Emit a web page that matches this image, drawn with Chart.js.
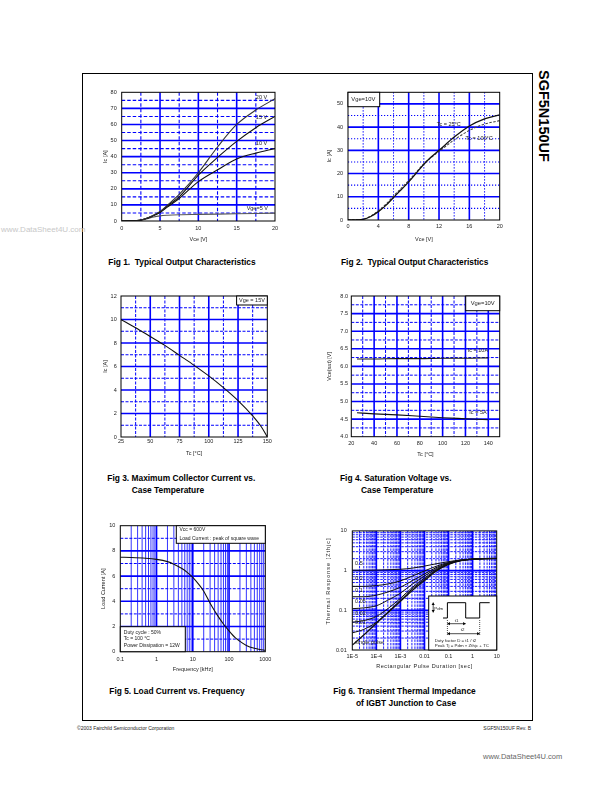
<!DOCTYPE html>
<html>
<head>
<meta charset="utf-8">
<script src="https://cdn.jsdelivr.net/npm/chart.js@4.4.1/dist/chart.umd.min.js"></script>
<style>
html,body{margin:0;padding:0;background:#fff;}
#page{position:relative;width:612px;height:792px;overflow:hidden;background:#fff;font-family:"Liberation Sans",Arial,Helvetica,sans-serif;}
#page canvas{position:absolute;}
.tx{position:absolute;white-space:nowrap;color:#000;}
.cap{font-weight:bold;font-size:8.4px;line-height:10px;}
</style>
</head>
<body>
<div id="page">
  <div style="position:absolute;left:82px;top:73px;width:451px;height:648px;border:1px solid #000;box-sizing:border-box;"></div>
  <div class="tx" style="left:536px;top:70px;writing-mode:vertical-rl;font-weight:bold;font-size:14.5px;line-height:15px;">SGF5N150UF</div>
  <div class="tx" style="left:1px;top:225px;font-size:8px;line-height:9px;color:#c8c8c8;">www.DataSheet4U.com</div>

  <div class="tx cap" style="left:108.3px;top:257px;">Fig 1.&nbsp; Typical Output Characteristics</div>
  <div class="tx cap" style="left:341px;top:257px;">Fig 2.&nbsp; Typical Output Characteristics</div>
  <div class="tx cap" style="left:107.3px;top:473px;">Fig 3. Maximum Collector Current vs.</div>
  <div class="tx cap" style="left:131.7px;top:484.5px;">Case Temperature</div>
  <div class="tx cap" style="left:340px;top:473px;">Fig 4. Saturation Voltage vs.</div>
  <div class="tx cap" style="left:361px;top:484.5px;">Case Temperature</div>
  <div class="tx cap" style="left:109.3px;top:686px;">Fig 5. Load Current vs. Frequency</div>
  <div class="tx cap" style="left:333.3px;top:686px;">Fig 6. Transient Thermal Impedance</div>
  <div class="tx cap" style="left:356px;top:697.5px;">of IGBT Junction to Case</div>

  <div class="tx" style="left:77px;top:724.7px;font-size:5px;line-height:6px;color:#222;">©2003 Fairchild Semiconductor Corporation</div>
  <div class="tx" style="right:81px;top:724.7px;font-size:5px;line-height:6px;color:#222;">SGF5N150UF Rev. B</div>
  <div class="tx" style="left:483px;top:751.5px;font-size:7.5px;line-height:9px;color:#666;">www.DataSheet4U.com</div>
</div>
<script>
// ================= DATA =================
// Fig 1 – Typical output characteristics (Ic vs Vce for several Vge)
const f1Vce   = [0, 1, 2, 2.5, 3, 4, 5, 6, 7.5, 10, 12.5, 15, 17.5, 20];
const f1Vge20 = [0, 0.1, 0.3, 0.6, 1.2, 3.2, 6.0, 10.0, 16.5, 30.0, 46.0, 60.0, 69.0, 76.0];
const f1Vge15 = [0, 0.1, 0.3, 0.6, 1.2, 3.1, 5.6, 9.5, 15.0, 28.5, 39.5, 49.5, 58.0, 65.0];
const f1Vge10 = [0, 0.1, 0.3, 0.6, 1.2, 3.0, 5.3, 8.8, 14.0, 24.5, 31.8, 38.5, 42.2, 45.0];
const f1Vge5  = [0, 0.1, 0.3, 0.5, 1.0, 2.3, 3.2, 3.6, 3.9, 4.1, 4.3, 4.5, 4.7, 4.9];
const f1XTicks = [0, 5, 10, 15, 20];
const f1XLabels = ['0', '5', '10', '15', '20'];
const f1YTicks = [0, 10, 20, 30, 40, 50, 60, 70, 80];
const f1YLabels = ['0', '10', '20', '30', '40', '50', '60', '70', '80'];
const f1GridXMajor = [5, 10, 15];
const f1GridXMinor = [2.5, 7.5, 12.5, 17.5];
const f1GridYMajor = [10, 20, 30, 40, 50, 60, 70];
const f1GridYMinor = [5, 15, 25, 35, 45, 55, 65, 75];

// Fig 2 – Typical output characteristics at two case temperatures
const f2Vce   = [0, 1, 2, 3, 4, 5, 6, 7, 8, 9, 10, 11, 12, 14, 16, 18, 20];
const f2Tc25  = [0, 0.05, 0.3, 1.5, 3.6, 6.3, 9.7, 13.0, 16.4, 20.2, 24.0, 27.2, 30.0, 35.7, 40.5, 43.6, 45.3];
const f2Tc100 = [0, 0.05, 0.35, 1.7, 4.0, 6.8, 10.3, 13.6, 17.0, 20.6, 24.2, 27.0, 29.5, 34.5, 38.6, 41.3, 42.8];
const f2XTicks = [0, 4, 8, 12, 16, 20];
const f2XLabels = ['0', '4', '8', '12', '16', '20'];
const f2YTicks = [0, 10, 20, 30, 40, 50];
const f2YLabels = ['0', '10', '20', '30', '40', '50'];
const f2GridXMajor = [4, 8, 12, 16];
const f2GridXMinor = [2, 6, 10, 14, 18];
const f2GridYMajor = [10, 20, 30, 40, 50];
const f2GridYMinor = [5, 15, 25, 35, 45];

// Fig 3 – Maximum collector current vs case temperature
const f3Tc = [25, 37.5, 50, 62.5, 75, 87.5, 100, 112.5, 125, 137.5, 145, 150];
const f3Ic = [10, 9.3, 8.55, 7.8, 6.95, 6.1, 5.2, 4.2, 3.1, 1.8, 0.85, 0];
const f3XTicks = [25, 50, 75, 100, 125, 150];
const f3XLabels = ['25', '50', '75', '100', '125', '150'];
const f3YTicks = [0, 2, 4, 6, 8, 10, 12];
const f3YLabels = ['0', '2', '4', '6', '8', '10', '12'];
const f3GridXMajor = [50, 75, 100, 125];
const f3GridXMinor = [37.5, 62.5, 87.5, 112.5, 137.5];
const f3GridYMajor = [2, 4, 6, 8, 10];
const f3GridYMinor = [1, 3, 5, 7, 9, 11];

// Fig 4 – Saturation voltage vs case temperature
const f4Tc    = [25, 40, 60, 80, 100, 120, 140];
const f4Ic10A = [6.21, 6.21, 6.22, 6.22, 6.23, 6.23, 6.24];
const f4Ic5A  = [4.68, 4.65, 4.62, 4.58, 4.54, 4.51, 4.48];
const f4XTicks = [20, 40, 60, 80, 100, 120, 140];
const f4XLabels = ['20', '40', '60', '80', '100', '120', '140'];
const f4YTicks = [4.0, 4.5, 5.0, 5.5, 6.0, 6.5, 7.0, 7.5, 8.0];
const f4YLabels = ['4.0', '4.5', '5.0', '5.5', '6.0', '6.5', '7.0', '7.5', '8.0'];
const f4GridXMajor = [40, 60, 80, 100, 120, 140];
const f4GridXMinor = [30, 50, 70, 90, 110, 130];
const f4GridYMajor = [4.5, 5.0, 5.5, 6.0, 6.5, 7.0, 7.5];
const f4GridYMinor = [4.25, 4.75, 5.25, 5.75, 6.25, 6.75, 7.25, 7.75];

// Fig 5 – Load current vs frequency
const f5Freq = [0.1, 0.2, 0.5, 1, 2, 3, 5, 7, 10, 15, 20, 30, 50, 70, 100, 150, 200, 300, 500, 700, 1000];
const f5Load = [7.5, 7.48, 7.42, 7.33, 7.15, 6.95, 6.6, 6.3, 5.9, 5.3, 4.8, 3.85, 2.8, 2.2, 1.65, 1.1, 0.82, 0.5, 0.27, 0.18, 0.12];
const f5XTicks = [0.1, 1, 10, 100, 1000];
const f5XLabels = ['0.1', '1', '10', '100', '1000'];
const f5YTicks = [0, 2, 4, 6, 8, 10];
const f5YLabels = ['0', '2', '4', '6', '8', '10'];
const f5GridXMajor = [1, 10, 100];
const f5GridYMajor = [2, 4, 6, 8];
const f5GridYMinor = [1, 3, 5, 7, 9];

// Fig 6 – Transient thermal impedance (Zthjc vs pulse duration, per duty factor)
const f6Time   = [1e-5, 3e-5, 1e-4, 3e-4, 1e-3, 3e-3, 1e-2, 3e-2, 0.1, 0.3, 1, 3, 10];
const f6D05    = [1.02, 1.02, 1.03, 1.05, 1.08, 1.15, 1.30, 1.48, 1.68, 1.85, 1.96, 2.00, 2.02];
const f6D02    = [0.40, 0.40, 0.42, 0.46, 0.55, 0.72, 0.98, 1.28, 1.60, 1.82, 1.95, 2.00, 2.02];
const f6D01    = [0.22, 0.22, 0.24, 0.29, 0.38, 0.55, 0.82, 1.18, 1.55, 1.80, 1.94, 2.00, 2.02];
const f6D005   = [0.11, 0.115, 0.13, 0.18, 0.27, 0.45, 0.73, 1.10, 1.52, 1.79, 1.94, 2.00, 2.02];
const f6D002   = [0.05, 0.055, 0.07, 0.11, 0.20, 0.37, 0.65, 1.03, 1.48, 1.78, 1.93, 2.00, 2.02];
const f6D001   = [0.027, 0.033, 0.05, 0.09, 0.18, 0.34, 0.60, 1.00, 1.45, 1.77, 1.93, 2.00, 2.02];
const f6Single = [0.0133, 0.024, 0.047, 0.087, 0.168, 0.31, 0.56, 0.97, 1.43, 1.76, 1.93, 2.00, 2.02];
const f6XTicks = [1e-5, 1e-4, 1e-3, 1e-2, 1e-1, 1, 10];
const f6XLabels = ['1E-5', '1E-4', '1E-3', '0.01', '0.1', '1', '10'];
const f6YTicks = [0.01, 0.1, 1, 10];
const f6YLabels = ['0.01', '0.1', '1', '10'];
const f6GridXMajor = [1e-4, 1e-3, 1e-2, 1e-1, 1];
const f6GridYMajor = [0.1, 1];

// ================= RENDERING =================
const FONT = '"Liberation Sans", Arial, Helvetica, sans-serif';
const FS = 5.5, LH = FS * 1.2;
const BLUE = '#0000ff';
const TXT = '#222';
const page = document.getElementById('page');

function logMinors(e0, e1) {
  const out = [];
  for (let e = e0; e < e1; e++) for (let m = 2; m <= 9; m++) out.push(m * Math.pow(10, e));
  return out;
}

function axis(type, min, max, vals, labels, title) {
  return {
    type, min, max,
    afterBuildTicks: s => { s.ticks = vals.map(v => ({ value: v })); },
    ticks: {
      callback: (v, i) => labels[i], autoSkip: false, maxRotation: 0, minRotation: 0,
      font: { size: FS, family: FONT }, color: TXT, padding: 3
    },
    grid: { display: false, drawTicks: false },
    border: { display: false },
    title: { display: !!title, text: title || '', font: { size: FS, family: FONT }, color: TXT, padding: 0 }
  };
}

function line(xs, ys, extra) {
  return Object.assign({
    data: xs.map((x, i) => ({ x: x, y: ys[i] })),
    borderColor: '#111', borderWidth: 1.1, pointRadius: 0, fill: false,
    cubicInterpolationMode: 'monotone'
  }, extra || {});
}

function makeDecor(spec) {
  return {
    id: 'decor',
    beforeDatasetsDraw(chart) {
      const { ctx, chartArea: a } = chart;
      const sx = chart.scales.x, sy = chart.scales.y;
      ctx.save();
      ctx.beginPath(); ctx.rect(a.left, a.top, a.right - a.left, a.bottom - a.top); ctx.clip();
      (spec.grid || []).forEach(g => {
        ctx.strokeStyle = g.color || BLUE;
        ctx.lineWidth = g.width || 1;
        ctx.setLineDash(g.dash || []);
        g.values.forEach(v => {
          ctx.beginPath();
          if (g.axis === 'x') { const p = sx.getPixelForValue(v); ctx.moveTo(p, a.top); ctx.lineTo(p, a.bottom); }
          else { const p = sy.getPixelForValue(v); ctx.moveTo(a.left, p); ctx.lineTo(a.right, p); }
          ctx.stroke();
        });
      });
      ctx.restore();
    },
    afterDatasetsDraw(chart) {
      const { ctx, chartArea: a } = chart;
      const sx = chart.scales.x, sy = chart.scales.y;
      ctx.save();
      ctx.setLineDash([]);
      ctx.strokeStyle = '#000'; ctx.lineWidth = 1;
      ctx.strokeRect(a.left, a.top, a.right - a.left, a.bottom - a.top);
      (spec.boxes || []).forEach(b => {
        const x0 = b.corner[1] === 'l' ? a.left : a.right - b.w;
        const y0 = b.corner[0] === 't' ? a.top : a.bottom - b.h;
        ctx.fillStyle = '#fff'; ctx.fillRect(x0, y0, b.w, b.h);
        ctx.strokeStyle = '#000'; ctx.lineWidth = 1; ctx.strokeRect(x0, y0, b.w, b.h);
        ctx.fillStyle = TXT; ctx.font = (b.size || FS) + 'px ' + FONT; ctx.textBaseline = 'middle';
        ctx.textAlign = b.align || 'left';
        b.lines.forEach((t, i) => {
          const tx = b.align === 'center' ? x0 + b.w / 2 : x0 + b.pad;
          ctx.fillText(t, tx, y0 + b.ly[i]);
        });
      });
      (spec.texts || []).forEach(t => {
        ctx.fillStyle = TXT; ctx.font = (t.size || FS) + 'px ' + FONT;
        ctx.textBaseline = 'middle'; ctx.textAlign = t.align || 'left';
        ctx.fillText(t.text, sx.getPixelForValue(t.x), sy.getPixelForValue(t.y));
      });
      if (spec.custom) spec.custom(ctx, a);
      ctx.restore();
    }
  };
}

function makeChart(geo, xAxis, yAxis, datasets, spec) {
  const left = Math.floor(geo.yTitleX - LH / 2);
  const top = Math.floor(geo.t - 8);
  const right = Math.ceil(geo.r + 12);
  const bottom = Math.ceil(geo.xTitleY + LH / 2 + 0.5);
  const W = right - left, H = bottom - top;
  const cv = document.createElement('canvas');
  cv.width = W; cv.height = H;
  cv.style.left = left + 'px'; cv.style.top = top + 'px';
  cv.style.width = W + 'px'; cv.style.height = H + 'px';
  page.appendChild(cv);
  yAxis.afterFit = s => { s.width = geo.l - left; };
  xAxis.afterFit = s => { s.height = bottom - geo.b; };
  yAxis.ticks.padding = geo.l - geo.yLabRight;
  xAxis.ticks.padding = geo.xLabY - geo.b - LH / 2;
  yAxis.title.padding = { top: geo.yTitleX - left - LH / 2, bottom: 0 };
  xAxis.title.padding = { top: 0, bottom: bottom - geo.xTitleY - LH / 2 };
  return new Chart(cv, {
    type: 'line',
    data: { datasets: datasets },
    options: {
      responsive: false, animation: false, devicePixelRatio: 1,
      layout: { padding: { top: geo.t - top, right: right - geo.r, left: 0, bottom: 0 } },
      plugins: { legend: { display: false }, tooltip: { enabled: false } },
      scales: { x: xAxis, y: yAxis }
    },
    plugins: [makeDecor(spec)]
  });
}

function gridSet(xMaj, xMin, yMaj, yMin, dash, minW) {
  const g = [];
  if (xMin) g.push({ axis: 'x', values: xMin, width: minW || 1, dash: dash });
  if (yMin) g.push({ axis: 'y', values: yMin, width: minW || 1, dash: dash });
  if (xMaj) g.push({ axis: 'x', values: xMaj, width: 1.6 });
  if (yMaj) g.push({ axis: 'y', values: yMaj, width: 1.6 });
  return g;
}

// ---- Fig 1
makeChart({ l: 121.7, r: 275, t: 92.3, b: 221, yTitleX: 105, xTitleY: 239, yLabRight: 116.7, xLabY: 228.3 },
  axis('linear', 0, 20, f1XTicks, f1XLabels, 'Vce [V]'),
  axis('linear', 0, 80, f1YTicks, f1YLabels, 'Ic [A]'),
  [line(f1Vce, f1Vge20, { borderColor: '#333' }), line(f1Vce, f1Vge15), line(f1Vce, f1Vge10), line(f1Vce, f1Vge5, { borderColor: '#555' })],
  {
    grid: gridSet(f1GridXMajor, f1GridXMinor, f1GridYMajor, f1GridYMinor, [3.5, 2], 1.1),
    texts: [
      { text: '20 V', x: 17.5, y: 77 }, { text: '15 V', x: 17.5, y: 64.5 },
      { text: '10 V', x: 17.5, y: 48 }, { text: 'Vge=5 V', x: 16.3, y: 7.5 }
    ]
  });

// ---- Fig 2
makeChart({ l: 348, r: 499.7, t: 92.3, b: 220, yTitleX: 329.7, xTitleY: 239, yLabRight: 343, xLabY: 226 },
  axis('linear', 0, 20, f2XTicks, f2XLabels, 'Vce [V]'),
  axis('linear', 0, 55, f2YTicks, f2YLabels, 'Ic [A]'),
  [line(f2Vce, f2Tc25, { borderWidth: 1.3 }), line(f2Vce, f2Tc100, { borderColor: '#444', borderDash: [2.5, 1.5] })],
  {
    grid: gridSet(f2GridXMajor, f2GridXMinor, f2GridYMajor, f2GridYMinor, [1.2, 1.8], 1.1),
    boxes: [{ corner: 'tl', w: 31.7, h: 14.4, pad: 3.3, ly: [6.7], lines: ['Vge=10V'], size: 5.8 }],
    texts: [{ text: 'Tc = 25°C', x: 11.7, y: 41 }, { text: 'Tc = 100°C', x: 15.5, y: 35.3 }]
  });

// ---- Fig 3
makeChart({ l: 121, r: 267.3, t: 296, b: 437, yTitleX: 105, xTitleY: 453.3, yLabRight: 116.7, xLabY: 441.7 },
  axis('linear', 25, 150, f3XTicks, f3XLabels, 'Tc [°C]'),
  axis('linear', 0, 12, f3YTicks, f3YLabels, 'Ic [A]'),
  [line(f3Tc, f3Ic)],
  {
    grid: gridSet(f3GridXMajor, f3GridXMinor, f3GridYMajor, f3GridYMinor, [3, 1.5], 1),
    boxes: [{ corner: 'tr', w: 30.7, h: 9, align: 'center', ly: [4.6], lines: ['Vge = 15V'] }]
  });

// ---- Fig 4
makeChart({ l: 351.3, r: 499.7, t: 296, b: 436.7, yTitleX: 329.7, xTitleY: 454, yLabRight: 348, xLabY: 443.3 },
  axis('linear', 20, 150, f4XTicks, f4XLabels, 'Tc [°C]'),
  axis('linear', 4, 8, f4YTicks, f4YLabels, 'Vce(sat) [V]'),
  [line(f4Tc, f4Ic10A), line(f4Tc, f4Ic5A)],
  {
    grid: gridSet(f4GridXMajor, f4GridXMinor, f4GridYMajor, f4GridYMinor, [3, 1.5], 1),
    boxes: [{ corner: 'tr', w: 34, h: 14.7, align: 'center', ly: [7.3], lines: ['Vge=10V'], size: 5.8 }],
    texts: [{ text: 'Ic = 10A', x: 122, y: 6.44 }, { text: 'Ic = 5A', x: 123.4, y: 4.68 }]
  });

// ---- Fig 5
makeChart({ l: 120.3, r: 265.3, t: 525.7, b: 651.7, yTitleX: 103, xTitleY: 669.3, yLabRight: 115.3, xLabY: 659.3 },
  axis('logarithmic', 0.1, 1000, f5XTicks, f5XLabels, 'Frequency [kHz]'),
  axis('linear', 0, 10, f5YTicks, f5YLabels, 'Load Current [A]'),
  [line(f5Freq, f5Load)],
  {
    grid: [
      { axis: 'x', values: logMinors(-1, 3), width: 0.8 },
      { axis: 'y', values: f5GridYMinor, width: 1, dash: [3, 1.5] },
      { axis: 'x', values: f5GridXMajor, width: 1.6 },
      { axis: 'y', values: f5GridYMajor, width: 1.6 }
    ],
    boxes: [
      { corner: 'tr', w: 89, h: 17.6, pad: 3.2, ly: [4.4, 12.6], size: 5, lines: ['Vcc = 600V', 'Load Current : peak of square wave'] },
      { corner: 'bl', w: 65, h: 25, pad: 3.5, ly: [5.6, 12.3, 19.3], size: 5, lines: ['Duty cycle : 50%', 'Tc = 100 °C', 'Power Dissipation = 12W'] }
    ]
  });

// ---- Fig 6
function arrowHead(ctx, x, y, dx, dy) {
  const s = 1.6;
  ctx.beginPath();
  ctx.moveTo(x, y);
  ctx.lineTo(x - dx * s * 1.6 - dy * s, y - dy * s * 1.6 - dx * s);
  ctx.lineTo(x - dx * s * 1.6 + dy * s, y - dy * s * 1.6 + dx * s);
  ctx.closePath(); ctx.fill();
}
function drawInset(ctx, a) {
  const w = 68, h = 54, x0 = a.right - w, y0 = a.bottom - h;
  ctx.setLineDash([]);
  ctx.fillStyle = '#fff'; ctx.fillRect(x0, y0, w, h);
  ctx.strokeStyle = '#000'; ctx.lineWidth = 1; ctx.strokeRect(x0, y0, w, h);
  ctx.beginPath();
  ctx.moveTo(x0 + 14.3, y0 + 22); ctx.lineTo(x0 + 18.7, y0 + 22); ctx.lineTo(x0 + 18.7, y0 + 6.7);
  ctx.lineTo(x0 + 37, y0 + 6.7); ctx.lineTo(x0 + 37, y0 + 22); ctx.lineTo(x0 + 51, y0 + 22);
  ctx.lineTo(x0 + 51, y0 + 6.7); ctx.lineTo(x0 + 61, y0 + 6.7);
  ctx.stroke();
  ctx.fillStyle = '#000'; ctx.lineWidth = 0.7;
  ctx.beginPath(); ctx.moveTo(x0 + 4.5, y0 + 6.5); ctx.lineTo(x0 + 4.5, y0 + 16.5); ctx.stroke();
  arrowHead(ctx, x0 + 4.5, y0 + 6.5, 0, -1); arrowHead(ctx, x0 + 4.5, y0 + 16.5, 0, 1);
  ctx.beginPath(); ctx.moveTo(x0 + 18.7, y0 + 27.7); ctx.lineTo(x0 + 37, y0 + 27.7); ctx.stroke();
  arrowHead(ctx, x0 + 18.7, y0 + 27.7, -1, 0); arrowHead(ctx, x0 + 37, y0 + 27.7, 1, 0);
  ctx.beginPath(); ctx.moveTo(x0 + 18.7, y0 + 37.7); ctx.lineTo(x0 + 51, y0 + 37.7); ctx.stroke();
  arrowHead(ctx, x0 + 18.7, y0 + 37.7, -1, 0); arrowHead(ctx, x0 + 51, y0 + 37.7, 1, 0);
  ctx.setLineDash([1, 1]);
  ctx.beginPath();
  ctx.moveTo(x0 + 18.7, y0 + 24); ctx.lineTo(x0 + 18.7, y0 + 40);
  ctx.moveTo(x0 + 51, y0 + 24); ctx.lineTo(x0 + 51, y0 + 40);
  ctx.stroke();
  ctx.setLineDash([]);
  ctx.fillStyle = TXT; ctx.font = '4.4px ' + FONT; ctx.textBaseline = 'middle';
  ctx.textAlign = 'left';
  ctx.fillText('Pdm', x0 + 5.5, y0 + 12.5);
  ctx.textAlign = 'center';
  ctx.fillText('t1', x0 + 27.8, y0 + 24.5);
  ctx.fillText('t2', x0 + 34, y0 + 33.5);
  ctx.textAlign = 'left';
  ctx.fillText('Duty factor D = t1 / t2', x0 + 6, y0 + 45);
  ctx.fillText('Peak Tj = Pdm × Zthjc + TC', x0 + 6, y0 + 49.7);
  ctx.fillStyle = TXT; ctx.font = FS + 'px ' + FONT; ctx.textAlign = 'center'; ctx.textBaseline = 'middle';
  try { ctx.letterSpacing = '0.5px'; } catch (e) {}
  ctx.fillText('Rectangular Pulse Duration [sec]', (a.left + a.right) / 2, a.bottom + 16.7);
  try { ctx.letterSpacing = '1px'; } catch (e) {}
  ctx.save();
  ctx.translate(a.left - 24, a.top + 50);
  ctx.rotate(-Math.PI / 2);
  ctx.fillText('Thermal Response [Zthjc]', 0, 0);
  ctx.restore();
  try { ctx.letterSpacing = '0px'; } catch (e) {}
}

makeChart({ l: 352.3, r: 496.7, t: 530, b: 650, yTitleX: 328.3, xTitleY: 666.7, yLabRight: 346.7, xLabY: 656.7 },
  axis('logarithmic', 1e-5, 10, f6XTicks, f6XLabels, ''),
  axis('logarithmic', 0.01, 10, f6YTicks, f6YLabels, ''),
  [
    line(f6Time, f6D05, { borderWidth: 1 }), line(f6Time, f6D02, { borderWidth: 1 }),
    line(f6Time, f6D01, { borderWidth: 1 }), line(f6Time, f6D005, { borderWidth: 1 }),
    line(f6Time, f6D002, { borderWidth: 1 }), line(f6Time, f6D001, { borderWidth: 1 }),
    line(f6Time, f6Single, { borderWidth: 1.3 })
  ],
  {
    grid: [
      { axis: 'x', values: logMinors(-5, 1), width: 0.9, dash: [2.5, 1] },
      { axis: 'y', values: logMinors(-2, 1), width: 0.9, dash: [2.5, 1] },
      { axis: 'x', values: f6GridXMajor, width: 1.6 },
      { axis: 'y', values: f6GridYMajor, width: 1.6 }
    ],
    texts: [
      { text: '0.5', x: 1.3e-5, y: 1.47 }, { text: '0.2', x: 1.3e-5, y: 0.64 },
      { text: '0.1', x: 1.3e-5, y: 0.32 }, { text: '0.05', x: 1.3e-5, y: 0.168 },
      { text: '0.02', x: 1.3e-5, y: 0.081 }, { text: '0.01', x: 1.3e-5, y: 0.049 },
      { text: 'single pulse', x: 1.3e-5, y: 0.0155 }
    ],
    custom: drawInset
  });
</script>
</body>
</html>
